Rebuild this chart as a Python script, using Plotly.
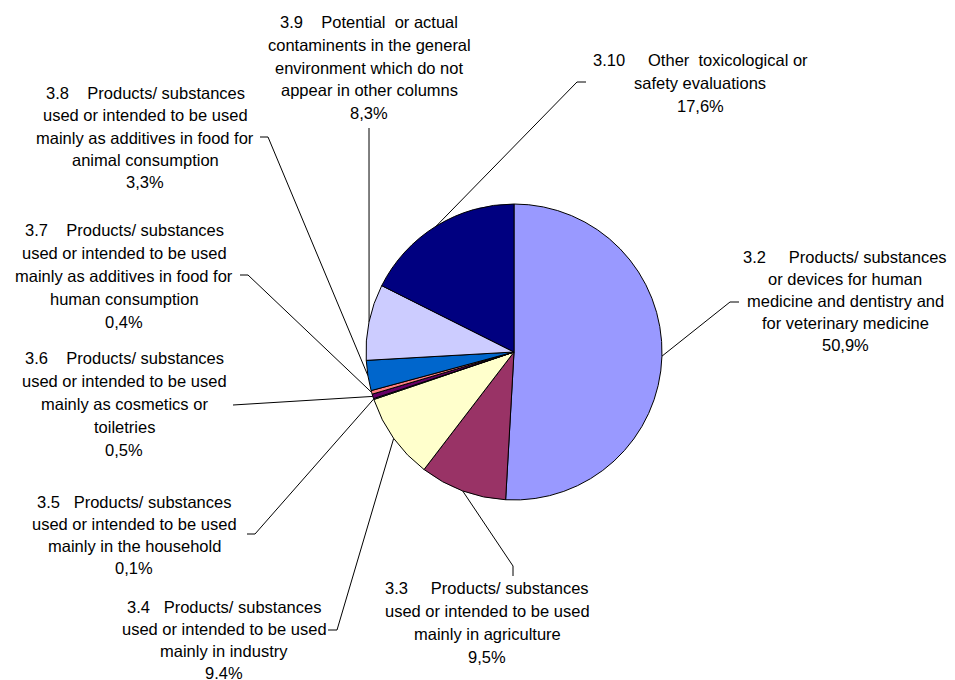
import math
import plotly.graph_objects as go

# ---------------- data ----------------
codes = ["3.2", "3.3", "3.4", "3.5", "3.6", "3.7", "3.8", "3.9", "3.10"]
values = [50.9, 9.5, 9.4, 0.1, 0.5, 0.4, 3.3, 8.3, 17.6]
pct_labels = ["50,9%", "9,5%", "9.4%", "0,1%", "0,5%", "0,4%", "3,3%", "8,3%", "17,6%"]
descriptions = [
    ["Products/ substances", "or devices for human", "medicine and dentistry and", "for veterinary medicine"],
    ["Products/ substances", "used or intended to be used", "mainly in agriculture"],
    ["Products/ substances", "used or intended to be used", "mainly in industry"],
    ["Products/ substances", "used or intended to be used", "mainly in the household"],
    ["Products/ substances", "used or intended to be used", "mainly as cosmetics or", "toiletries"],
    ["Products/ substances", "used or intended to be used", "mainly as additives in food for", "human consumption"],
    ["Products/ substances", "used or intended to be used", "mainly as additives in food for", "animal consumption"],
    ["Potential  or actual", "contaminents in the general", "environment which do not", "appear in other columns"],
    ["Other  toxicological or", "safety evaluations"],
]
colors = ["#9999FF", "#993366", "#FFFFCC", "#CCFFFF", "#660066",
          "#FF8080", "#0066CC", "#CCCCFF", "#000080"]

# ---------------- layout constants (screen pixels) ----------------
W, H = 955, 680
OFF = 8  # page body margin in the browser
CX, CY, R = 514, 352, 148
gap_spaces = [5, 5, 3, 3, 4, 4, 4, 4, 5]
label_cx = [845, 487, 224, 134, 124, 124, 145, 369, 700]
label_y0 = [257, 588, 607, 502, 358, 230, 93, 22, 60]
line_sp = [22, 23, 22, 22, 23, 23, 22.3, 22.8, 23]
elbows = [(730, 302), (513, 566), (337, 630), (255, 534), (233, 405),
          (248, 275), (268, 137), (369, 128), (577, 82)]
ends = [(739, 302), (513, 576), (328, 630), (247, 534), (233, 405),
        (240, 275), (260, 137), (369, 128), (586, 82)]

fig = go.Figure()

fcx, fcy = CX - OFF, CY - OFF
fig.add_trace(go.Pie(
    values=values, labels=codes, marker=dict(colors=colors, line=dict(color="black", width=1)),
    sort=False, direction="clockwise", rotation=0, textinfo="none", hoverinfo="skip",
    showlegend=False,
    domain=dict(x=[(fcx - R) / W, (fcx + R) / W], y=[(H - fcy - R) / H, (H - fcy + R) / H]),
))

# leader lines
total = sum(values)
cum = 0.0
annotations = []
for i, v in enumerate(values):
    mid = (cum + v / 2) / total * 2 * math.pi
    cum += v
    sx, sy = CX + R * math.sin(mid), CY - R * math.cos(mid)
    ex, ey = elbows[i]
    tx, ty = ends[i]
    fig.add_trace(go.Scatter(x=[sx, ex, tx], y=[sy, ey, ty], mode="lines",
                             line=dict(color="black", width=1), hoverinfo="skip",
                             showlegend=False))
    lines = [codes[i] + "\u00a0" * gap_spaces[i] + descriptions[i][0]] + descriptions[i][1:] + [pct_labels[i]]
    for j, ln in enumerate(lines):
        annotations.append(dict(
            x=label_cx[i], y=label_y0[i] + j * line_sp[i], xref="x", yref="y",
            text=ln.replace("  ", "\u00a0\u00a0"), showarrow=False, xanchor="center", yanchor="middle",
            font=dict(family="Liberation Sans, Arial", size=16.5, color="black"),
        ))

fig.update_layout(
    width=W, height=H, margin=dict(l=0, r=0, t=0, b=0),
    paper_bgcolor="white", plot_bgcolor="rgba(0,0,0,0)",
    xaxis=dict(range=[OFF, W + OFF], visible=False, fixedrange=True, domain=[0, 1]),
    yaxis=dict(range=[H + OFF, OFF], visible=False, fixedrange=True, domain=[0, 1]),
    annotations=annotations,
)

fig.write_html("out.html")
